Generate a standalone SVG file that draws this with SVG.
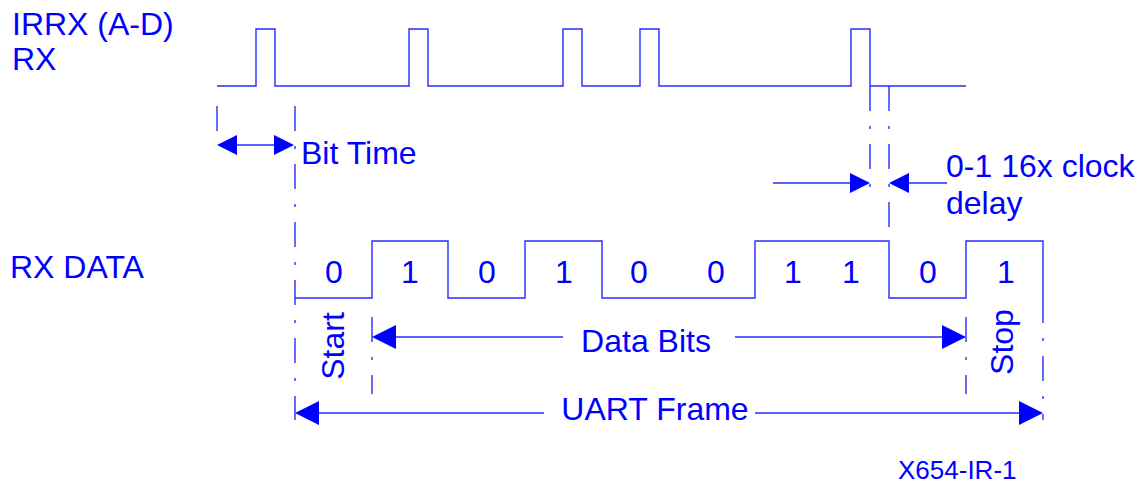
<svg xmlns="http://www.w3.org/2000/svg" width="1144" height="485" viewBox="0 0 1144 485">
<style>
text{font-family:"Liberation Sans",Arial,sans-serif;fill:#0000ff;font-size:32px}
.w{fill:none;stroke:#2a2aff;stroke-width:1.4}
.dd{fill:none;stroke:#2a2aff;stroke-width:1.4;stroke-dasharray:25 15 3 15}
.ah{fill:#0000ff}
.c{text-anchor:middle}
</style>
<defs>
<path id="ah" d="M0,0 L-20,-10 L-20,10 Z"/>
<path id="ahb" d="M0,0 L-24,-12 L-24,12 Z"/>
</defs>
<g id="labels">
<text x="12" y="35">IRRX (A-D)</text>
<text x="12" y="70">RX</text>
<text x="10" y="278">RX DATA</text>
</g>
<g id="irrx-signal">
<path class="w" d="M217,86 H256 V29 H275 V86 H409 V29 H428 V86 H563 V29 H582 V86 H640 V29 H659 V86 H851 V29 H870 V86 H966"/>
</g>
<g id="rx-data-signal">
<path class="w" d="M295,298 H372 V241 H448 V298 H525 V241 H602 V298 H755 V241 H889 V298 H966 V241 H1043 V298"/>
<g class="c">
<text x="334" y="283">0</text>
<text x="410" y="283">1</text>
<text x="487" y="283">0</text>
<text x="564" y="283">1</text>
<text x="639" y="283">0</text>
<text x="716" y="283">0</text>
<text x="793" y="283">1</text>
<text x="851" y="283">1</text>
<text x="928" y="283">0</text>
<text x="1006" y="283">1</text>
</g>
</g>
<g id="connectors">
<line class="w" x1="217" y1="106" x2="217" y2="131"/>
<line class="dd" x1="295" y1="106" x2="295" y2="420"/>
<line class="dd" x1="870" y1="86" x2="870" y2="190"/>
<line class="dd" x1="889" y1="86" x2="889" y2="241"/>
<line class="dd" x1="372" y1="317" x2="372" y2="394"/>
<line class="dd" x1="966" y1="317" x2="966" y2="394"/>
<line class="dd" x1="1043" y1="298" x2="1043" y2="420"/>
<line class="w" x1="237" y1="145" x2="274" y2="145"/>
<line class="w" x1="773" y1="183" x2="851" y2="183"/>
<line class="w" x1="908" y1="183" x2="947" y2="183"/>
<line class="w" x1="396" y1="337" x2="563" y2="337"/>
<line class="w" x1="735" y1="337" x2="942" y2="337"/>
<line class="w" x1="319" y1="413" x2="544" y2="413"/>
<line class="w" x1="755" y1="413" x2="1019" y2="413"/>
<g class="ah">
<use href="#ah" transform="translate(217,145) rotate(180)"/>
<use href="#ah" transform="translate(294,145)"/>
<use href="#ah" transform="translate(870,183)"/>
<use href="#ah" transform="translate(889,183) rotate(180)"/>
<use href="#ahb" transform="translate(372,337) rotate(180)"/>
<use href="#ahb" transform="translate(966,337)"/>
<use href="#ahb" transform="translate(295,413) rotate(180)"/>
<use href="#ahb" transform="translate(1043,413)"/>
</g>
</g>
<g id="annotations">
<text x="301" y="164">Bit Time</text>
<text x="946" y="177">0-1 16x clock</text>
<text x="946" y="214">delay</text>
<text class="c" x="646" y="352">Data Bits</text>
<text class="c" x="655" y="420">UART Frame</text>
<text class="c" transform="translate(344,346) rotate(-90)">Start</text>
<text class="c" transform="translate(1013,342) rotate(-90)">Stop</text>
<text x="898" y="479" style="font-size:26px">X654-IR-1</text>
</g>
</svg>
